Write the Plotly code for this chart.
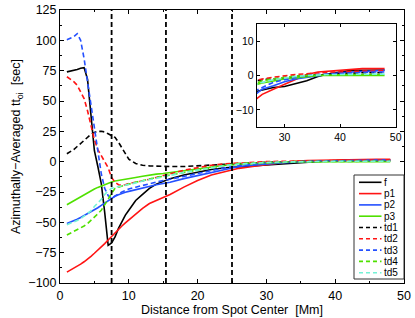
import plotly.graph_objects as go

# ---------------- data ----------------
distance = [1, 1.5, 2, 2.5, 3, 3.5, 4, 4.5, 5, 5.5, 6, 6.5, 7, 7.5, 8, 8.5, 9, 9.5, 10,
            11, 12, 13, 14, 15, 16,
            18, 20, 22, 24, 26, 28, 30, 32, 34, 36, 38, 40, 42, 44, 46, 48]

f_vals = [74, 74.5, 75, 76, 77, 77.5, 68, 35, 9, -4, -18, -42, -69, -67, -62, -55, -49, -44, -40,
          -32, -27, -22, -18.5, -16, -14,
          -11, -8.5, -6.5, -5, -4.2, -3.5, -3.2, -2.3, -1.5, -0.3, 0.5, 1, 1.5, 1.5, 1.6, 1.6]
p1_vals = [-91, -89.5, -88, -86.5, -84.5, -82.5, -80.5, -78, -75.5, -73, -70.5, -67.5, -64.5, -61.5, -58.5, -56, -53, -50.5, -48,
           -43, -38.5, -34.5, -32, -29.5, -27,
           -21, -15.5, -11, -8, -5.5, -4, -2.5, -1.2, 0.3, 1, 1.3, 1.5, 1.8, 2, 2, 2]
p2_vals = [-51, -50, -49, -47.5, -46, -44.5, -43, -41.5, -40, -38, -36, -34, -32, -30, -28.5, -27.3, -26, -25.2, -24.5,
           -23, -21.5, -20, -19, -18, -17,
           -14, -11.5, -9, -6.5, -4, -3, -1.8, -1, -0.5, 0, 0.5, 0.8, 1, 1.2, 1.3, 1.5]
p3_vals = [-35.5, -33.8, -32, -30.5, -29, -27.2, -25.5, -24, -22.5, -21.2, -20, -18.7, -17.5, -16.7, -16, -15.4, -14.8, -14.3, -13.8,
           -13, -12, -11, -10.3, -9.8, -9.2,
           -7.5, -6, -4.5, -3, -2.2, -1.5, -1, -0.7, -0.3, 0, 0, 0, 0, 0, 0, 0]
td1_vals = [6.5, 8, 10, 12.5, 15, 17.5, 20, 22.5, 24, 25, 25, 24.5, 23, 21.5, 20, 16, 11, 6, 2,
            -1.5, -3, -3.5, -3.8, -4, -4,
            -4, -3.3, -2.7, -2, -1.2, -1, -0.5, -0.2, 0, 0.2, 0.4, 0.6, 0.8, 0.8, 0.8, 0.8]
td2_vals = [70, 68, 66, 63, 58, 52, 42, 31, 18, 10, 5, 0, -5, -13, -17, -19, -19.5, -19, -18,
            -17, -16, -14.5, -13, -11.5, -10,
            -7, -5, -3, -1.8, -1, -0.5, 0, 0.3, 0.5, 0.8, 1, 1, 1.2, 1.3, 1.3, 1.5]
td3_vals = [100.5, 101.5, 103, 105.5, 100, 85, 66, 45, 25, 8, -10, -22, -28, -30, -28, -26.5, -25, -23.5, -22.5,
            -21, -19.5, -18, -17, -15.5, -14.5,
            -12, -9.5, -7, -5, -3.5, -2, -1.2, -0.5, 0, 0.3, 0.5, 0.6, 0.8, 0.9, 1, 1]
td4_vals = [-60.5, -59, -57.5, -56, -55, -53, -51, -48.5, -46, -43, -40, -36, -31, -26, -22, -21, -20, -19.2, -18.5,
            -17, -15.5, -14, -13, -12, -11,
            -8.5, -6.5, -4.5, -3, -1.5, -1, -0.5, -0.2, 0, 0, 0.2, 0.2, 0.3, 0.3, 0.3, 0.3]
td5_vals = [-52, -51, -50, -48.5, -47, -45, -43, -40.5, -37, -34, -31, -27, -24, -22, -21, -20.5, -20, -19.5, -19,
            -17.5, -16, -14.8, -13.5, -12.5, -11.5,
            -9, -7, -5, -3.2, -2, -1.2, -0.7, -0.3, 0, 0.2, 0.3, 0.3, 0.4, 0.4, 0.4, 0.4]

series_names = ["f", "p1", "p2", "p3", "td1", "td2", "td3", "td4", "td5"]
series_values = [f_vals, p1_vals, p2_vals, p3_vals, td1_vals, td2_vals, td3_vals, td4_vals, td5_vals]
boundaries = [7.5, 15.4, 25]

x_ticks = [0, 10, 20, 30, 40, 50]
y_ticks = [-100, -75, -50, -25, 0, 25, 50, 75, 100, 125]
inset_x_ticks = [30, 40, 50]
inset_y_ticks = [-10, 0, 10]

# ---------------- styles ----------------
BLACK, RED, BLUE, GREEN, CYAN = "#000000", "#ff1414", "#2450ff", "#4fe000", "#74f2d6"
styles = {
    "f": (BLACK, "solid"), "p1": (RED, "solid"), "p2": (BLUE, "solid"), "p3": (GREEN, "solid"),
    "td1": (BLACK, "5px,3px"), "td2": (RED, "5px,3px"), "td3": (BLUE, "5px,3px"),
    "td4": (GREEN, "5px,3px"), "td5": (CYAN, "5px,3px"),
}
FONT = "Liberation Sans, Arial, Helvetica, sans-serif"

fig = go.Figure()
for name, vals in zip(series_names, series_values):
    col, dash = styles[name]
    fig.add_trace(go.Scatter(x=distance, y=vals, mode="lines", name=name, showlegend=False,
                             line=dict(color=col, width=1.6, dash=dash), xaxis="x", yaxis="y"))
for name, vals in zip(series_names, series_values):
    col, dash = styles[name]
    fig.add_trace(go.Scatter(x=distance, y=vals, mode="lines", name=name, showlegend=False,
                             line=dict(color=col, width=1.6, dash=dash), xaxis="x2", yaxis="y2"))

# the page's default body margin is removed (see write_html below), so page px == figure px
W, H = 415, 318
PL, PR, PT, PB = 60, 404, 10, 283          # plot-area edges in pixels
ML, MT = PL, PT
MR, MB = W - PR, H - PB
PW, PH = PR - PL, PB - PT


def px(xp):
    return (xp - PL) / PW


def py(yp):
    return (PB - yp) / PH


shapes = []
for b in boundaries:
    shapes.append(dict(type="line", xref="x", yref="paper", x0=b, x1=b, y0=0, y1=1,
                       line=dict(color="black", width=1.8, dash="5px,3px"), layer="above"))

# manual legend (box, samples, labels)
lx0, lx1, ly0, ly1 = 354, 404, 175, 279
shapes.append(dict(type="rect", xref="paper", yref="paper", x0=px(lx0), x1=px(lx1),
                   y0=py(ly1), y1=py(ly0), line=dict(color="#333333", width=1),
                   fillcolor="white", layer="above"))
annotations = []
for i, name in enumerate(series_names):
    col, dash = styles[name]
    yy = 182.3 + i * 11.3
    shapes.append(dict(type="line", xref="paper", yref="paper", x0=px(359), x1=px(381.5),
                       y0=py(yy), y1=py(yy),
                       line=dict(color=col, width=1.6, dash="solid" if dash == "solid" else "4px,3px"),
                       layer="above"))
    annotations.append(dict(xref="paper", yref="paper", x=px(382.5), y=py(yy), text=name,
                            showarrow=False, xanchor="left", yanchor="middle", borderpad=0,
                            font=dict(family=FONT, size=10, color="black")))

axis_common = dict(showgrid=False, zeroline=False, showline=True, linecolor="black", linewidth=1,
                   mirror="ticks", ticks="inside", tickcolor="black", ticklen=4, automargin=False,
                   ticklabeloverflow="allow",
                   tickfont=dict(family=FONT, size=12.5, color="black"))

fig.update_layout(
    width=W, height=H,
    margin=dict(l=ML, r=MR, t=MT, b=MB, pad=0, autoexpand=False),
    paper_bgcolor="white", plot_bgcolor="white",
    font=dict(family=FONT, color="black"),
    xaxis=dict(axis_common, range=[0, 50], tickvals=x_ticks, domain=[0, 1], ticklabelstandoff=1,
               title=dict(text="Distance from Spot Center  [Mm]", font=dict(family=FONT, size=12.5),
                          standoff=0),
               minor=dict(ticks="inside", ticklen=2, dtick=5, tickcolor="black")),
    yaxis=dict(axis_common, range=[-100, 125], tickvals=y_ticks, domain=[0, 1],
               title=dict(text="Azimuthally\u2212Averaged tt<sub>oi</sub>  [sec]",
                          font=dict(family=FONT, size=12.5), standoff=4),
               minor=dict(ticks="inside", ticklen=2, dtick=12.5, tick0=0, tickcolor="black")),
    xaxis2=dict(axis_common, range=[25, 50], tickvals=inset_x_ticks, domain=[px(256.7), px(395.7)],
                anchor="y2", tickfont=dict(family=FONT, size=10.5, color="black"), ticklen=3),
    yaxis2=dict(axis_common, range=[-15, 15], tickvals=inset_y_ticks, domain=[py(127), py(24)],
                anchor="x2", tickfont=dict(family=FONT, size=10.5, color="black"), ticklen=3),
    shapes=shapes,
    annotations=annotations,
)

fig.write_html("out.html", config={"displayModeBar": False},
               post_script="document.body.style.margin='0px';")
